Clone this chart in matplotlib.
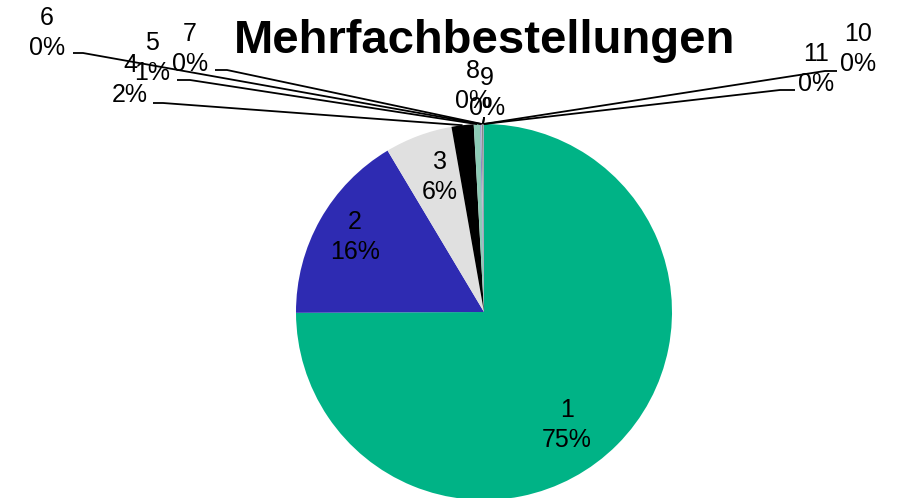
import numpy as np
import matplotlib
matplotlib.use("Agg")
import matplotlib.pyplot as plt

plt.rcParams['font.family'] = ['Liberation Sans', 'DejaVu Sans']

categories = ["1", "2", "3", "4", "5", "6", "7", "8", "9", "10", "11"]
shares = [74.93, 16.5, 5.8, 1.9, 0.55, 0.1, 0.08, 0.05, 0.04, 0.03, 0.02]
pct_labels = ["75%", "16%", "6%", "2%", "1%", "0%", "0%", "0%", "0%", "0%", "0%"]
colors = ["#00B386", "#2E2BB2", "#E0E0E0", "#000000", "#8CCBB5", "#8080C0",
          "#C0C0C0", "#404040", "#60B0A0", "#6060A0", "#A0A0A0"]
title = "Mehrfachbestellungen"

W, H = 902, 498
CX, CY, R = 484, 312, 188

fig = plt.figure(figsize=(W / 100, H / 100), dpi=100)
ax = fig.add_axes([0, 0, 1, 1])


def P(px, py):
    return ((px - CX) / R, (CY - py) / R)


wedges, _ = ax.pie(shares, colors=colors, startangle=90, counterclock=False,
                   radius=1, center=(0, 0), frame=True,
                   wedgeprops=dict(linewidth=0))
ax.set_xlim(-CX / R, (W - CX) / R)
ax.set_ylim(-(H - CY) / R, CY / R)
ax.set_aspect('auto')
ax.axis('off')

# label centers (pixel) for each slice
label_pos = [(567, 425), (355, 237), (440, 177), (130, 80), (152, 58), (47, 33),
             (190, 49), (473, 86), (487, 93), (858, 49), (816, 69)]
# leader line: (start px, elbow px) for outside labels
leaders = {
    3: [(153, 103), (163, 103)],
    4: [(177, 80), (190, 80)],
    5: [(73, 53), (83, 53)],
    6: [(215, 70), (227, 70)],
    7: [(484, 117), (484, 118)],
    8: [(484, 117), (484, 118)],
    9: [(837, 71), (825, 71)],
    10: [(795, 90), (780, 90)],
}

for i, (cat, pl) in enumerate(zip(categories, pct_labels)):
    x, y = P(*label_pos[i])
    ax.text(x, y, f"{cat}\n{pl}", ha='center', va='center', fontsize=18,
            linespacing=1.3, color='black')
    if i in leaders:
        w = wedges[i]
        mid = np.deg2rad((w.theta1 + w.theta2) / 2)
        ex, ey = np.cos(mid) * 1.0, np.sin(mid) * 1.0
        (sx, sy), (bx, by) = P(*leaders[i][0]), P(*leaders[i][1])
        ax.plot([sx, bx, ex], [sy, by, ey], color='black', lw=1.3,
                solid_capstyle='butt')

tx, ty = P(485, 53)
ax.text(tx, ty, title, ha='center', va='baseline', fontsize=34,
        fontweight='bold', color='black')

fig.savefig("out.png", dpi=100)
